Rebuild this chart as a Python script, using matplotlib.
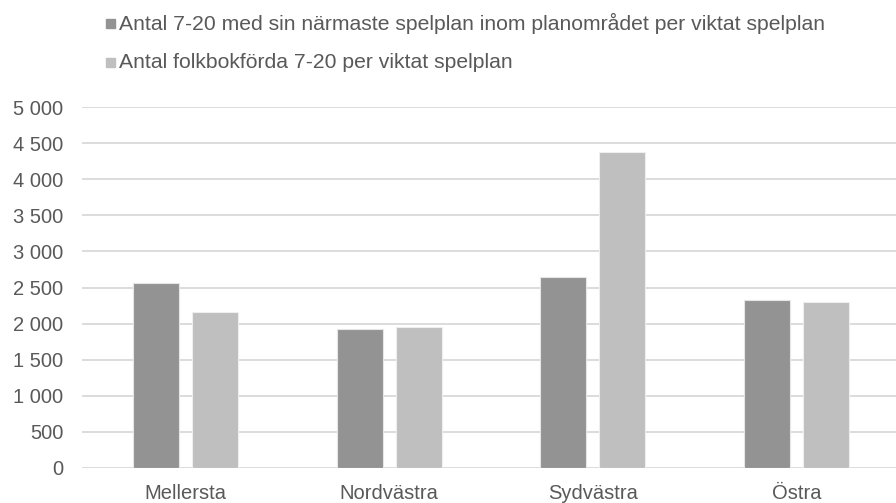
import numpy as np
import matplotlib
matplotlib.use("Agg")
from matplotlib import pyplot as plt
from matplotlib.ticker import FuncFormatter

# data
regions = ["Mellersta", "Nordvästra", "Sydvästra", "Östra"]
narmaste = [2558, 1924, 2645, 2322]
folkbokforda = [2164, 1951, 4379, 2302]
series_names = ["Antal 7-20 med sin närmaste spelplan inom planområdet per viktat spelplan",
                "Antal folkbokförda 7-20 per viktat spelplan"]
colors = ["#939393", "#BFBFBF"]
yticks = np.arange(0, 5001, 500)

plt.rcParams['font.family'] = ['Liberation Sans', 'DejaVu Sans']
txt = "#595959"
fs = 14.5

fig = plt.figure(figsize=(8.96, 5.03), dpi=100)
ax = fig.add_axes([82/896, 1 - 467.7/503, 814/896, 360.4/503])

x = np.arange(len(regions))
w = 0.226
off = 0.145
ax.bar(x - off, narmaste, w, color=colors[0], edgecolor="#E6E6E6", linewidth=0.8, zorder=3)
ax.bar(x + off, folkbokforda, w, color=colors[1], edgecolor="#EEEEEE", linewidth=0.8, zorder=3)

ax.set_xlim(-0.51, 3.49)
ax.set_ylim(0, 5000)
ax.set_yticks(yticks)
ax.yaxis.set_major_formatter(FuncFormatter(lambda v, p: f"{int(v):,}".replace(",", " ")))
ax.set_xticks(x)
ax.set_xticklabels(regions)
ax.grid(axis="y", color="#D9D9D9", linewidth=1.3, zorder=0)
ax.set_axisbelow(True)
for s in ax.spines.values():
    s.set_visible(False)
ax.tick_params(axis="both", length=0, labelsize=fs, labelcolor=txt)
ax.tick_params(axis="y", pad=13.5)
ax.tick_params(axis="x", pad=11.5)

# legend, one entry per row
for i, (name, c) in enumerate(zip(series_names, colors)):
    yy = 1 - (23 + 39 * i) / 503
    fig.patches.append(plt.Rectangle((106/896, yy - 5/503), 9/896, 9/503,
                                     transform=fig.transFigure, color=c))
    fig.text(119/896, yy, name, fontsize=15.2, color=txt, va="center", ha="left")

fig.savefig("out.png", dpi=100)
